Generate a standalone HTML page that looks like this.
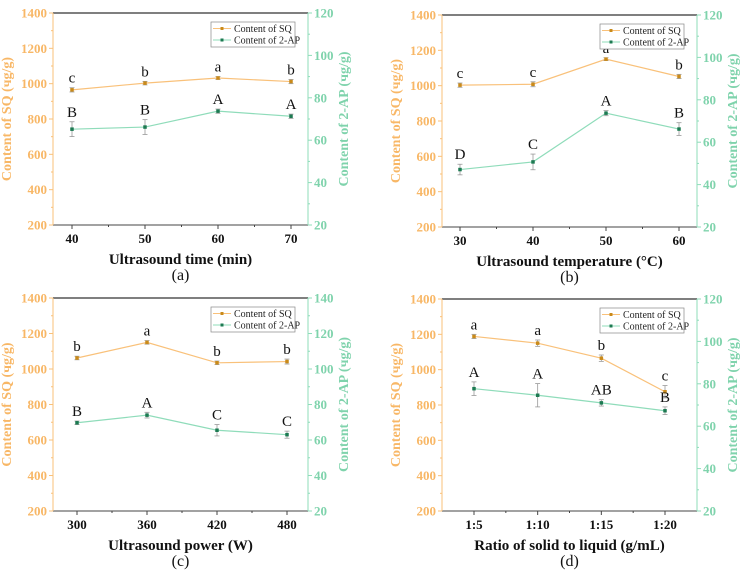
<!DOCTYPE html>
<html><head><meta charset="utf-8">
<style>
html,body{margin:0;padding:0;background:#fff;width:748px;height:574px;overflow:hidden}
svg{display:block;font-family:"Liberation Serif",serif}
</style></head>
<body>
<svg id="fig" width="748" height="574" viewBox="0 0 748 574"></svg>
<script>
// ---- data (panel a) ----
const catsA = ["40","50","60","70"];
const sqA = [965,1003,1032,1012];
const sqErrA = [12,10,8,12];
const apA = [65.2,66.2,73.7,71.3];
const apErrA = [3.5,3.5,1,1];
const sqLetA = ["c","b","a","b"];
const apLetA = ["B","B","A","A"];
// ---- data (panel b) ----
const catsB = ["30","40","50","60"];
const sqB = [1003,1008,1150,1052];
const sqErrB = [12,14,8,12];
const apB = [47.1,50.7,73.7,66.2];
const apErrB = [2.5,3.7,1.2,3];
const sqLetB = ["c","c","a","b"];
const apLetB = ["D","C","A","B"];
// ---- data (panel c) ----
const catsC = ["300","360","420","480"];
const sqC = [1062,1150,1035,1042];
const sqErrC = [10,10,10,14];
const apC = [69.7,74,65.5,63];
const apErrC = [1,1.6,3.2,2];
const sqLetC = ["b","a","b","b"];
const apLetC = ["B","A","C","C"];
// ---- data (panel d) ----
const catsD = ["1:5","1:10","1:15","1:20"];
const sqD = [1188,1150,1065,875];
const sqErrD = [12,18,18,35];
const apD = [77.7,74.6,71,67.3];
const apErrD = [3.2,5.5,1.5,1.8];
const sqLetD = ["a","a","b","c"];
const apLetD = ["A","A","AB","B"];
const leftTicks = [200,400,600,800,1000,1200,1400];
const rightTicksA = [20,40,60,80,100,120];
const rightTicksC = [20,40,60,80,100,120,140];

const NS="http://www.w3.org/2000/svg";
const svg=document.getElementById('fig');
function mk(tag,attrs,parent,text){const e=document.createElementNS(NS,tag);for(const k in attrs)e.setAttribute(k,attrs[k]);if(text!==undefined)e.textContent=text;(parent||svg).appendChild(e);return e;}

const ORL="#f9c17a", ORT="#f8b766", ORM="#c98a1a", TEL="#8fdcba", TET="#7fd3ac", TEM="#1d7a52";

function panel(cfg){
  const g=mk('g',{});
  
  
  const {L,R,T,B,x0,x1,rmax}=cfg;
  const n=cfg.cats.length;
  const xs=i=>x0+(x1-x0)*i/(n-1);
  const yl=v=>B-(v-200)/1200*(B-T);
  const yr=v=>B-(v-20)/(rmax-20)*(B-T);
  const top=mk('line',{x1:L,y1:T,x2:R,y2:T,stroke:"#333","stroke-width":1.3},g);
  
  const bot=mk('line',{x1:L,y1:B,x2:R,y2:B,stroke:"#444","stroke-width":1},g);
  
  const la=mk('line',{x1:L,y1:T,x2:L,y2:B,stroke:ORL,"stroke-width":1},g);
  
  const ra=mk('line',{x1:R,y1:T,x2:R,y2:B,stroke:TEL,"stroke-width":1},g);
  
  leftTicks.forEach((v,i)=>{
    const y=yl(v);
    mk('line',{x1:L-4,y1:y,x2:L,y2:y,stroke:ORL},g);
    if(i<leftTicks.length-1) mk('line',{x1:L-2,y1:yl(v+100),x2:L,y2:yl(v+100),stroke:ORL},g);
    const t=mk('text',{x:L-6,y:y+4.5,"text-anchor":"end","font-size":13,"font-weight":"bold",fill:ORT},g,String(v));
    
  });
  const rt=cfg.rticks;
  rt.forEach((v,i)=>{
    const y=yr(v);
    mk('line',{x1:R,y1:y,x2:R+4,y2:y,stroke:TEL},g);
    if(i<rt.length-1) mk('line',{x1:R,y1:yr(v+10),x2:R+2,y2:yr(v+10),stroke:TEL},g);
    const t=mk('text',{x:R+6,y:y+4.5,"font-size":13,"font-weight":"bold",fill:TET},g,String(v));
    
  });
  const step=(x1-x0)/(n-1);
  cfg.cats.forEach((c,i)=>{
    const x=xs(i);
    mk('line',{x1:x,y1:B,x2:x,y2:B+4,stroke:"#444"},g);
    if(i<n-1) mk('line',{x1:x+step/2,y1:B,x2:x+step/2,y2:B+2,stroke:"#444"},g);
    const t=mk('text',{x:x,y:B+18,"text-anchor":"middle","font-size":13,"font-weight":"bold",fill:"#111"},g,c);
    
  });
  const xt=mk('text',{x:(L+R)/2,y:B+39,"text-anchor":"middle","font-size":15,"font-weight":"bold",fill:"#111"},g,cfg.xtitle);
  
  const pl=mk('text',{x:(L+R)/2,y:B+55,"text-anchor":"middle","font-size":16,fill:"#111"},g,"("+cfg.id+")");
  
  const cy=(T+B)/2;
  const lt=mk('text',{x:L-42,y:cy,"text-anchor":"middle","font-size":14,"font-weight":"bold",fill:ORT,transform:`rotate(-90 ${L-42} ${cy})`},g,"Content of SQ (чg/g)");
  
  const rtt=mk('text',{x:R+40,y:cy,"text-anchor":"middle","font-size":14,"font-weight":"bold",fill:TET,transform:`rotate(-90 ${R+40} ${cy})`},g,"Content of 2-AP (чg/g)");
  
  function series(vals,errs,lets,ys,lc,mc,name,gap){
    const p=mk('polyline',{points:vals.map((v,i)=>xs(i)+","+ys(v)).join(" "),fill:"none",stroke:lc,"stroke-width":1.2},g);
    
    vals.forEach((v,i)=>{
      const x=xs(i),y=ys(v),e=errs[i];
      const ya=ys(v+e), yb=ys(v-e);
      mk('line',{x1:x,y1:ya,x2:x,y2:yb,stroke:"#999","stroke-width":0.8},g);
      mk('line',{x1:x-2.5,y1:ya,x2:x+2.5,y2:ya,stroke:"#999","stroke-width":0.8},g);
      mk('line',{x1:x-2.5,y1:yb,x2:x+2.5,y2:yb,stroke:"#999","stroke-width":0.8},g);
      const m=mk('rect',{x:x-1.75,y:y-1.75,width:3.5,height:3.5,fill:mc},g);
      
      const t=mk('text',{x:x,y:Math.min(y,ya)-gap,"text-anchor":"middle","font-size":15,fill:"#111"},g,lets[i]);
      
    });
  }
  series(cfg.sq,cfg.sqE,cfg.sqL,yl,ORL,ORM,'sq',5);
  series(cfg.ap,cfg.apE,cfg.apL,yr,TEL,TEM,'ap',5);
  const lx=R-97, ly=T+9;
  const lg=mk('g',{},g);
  
  mk('rect',{x:lx,y:ly,width:84,height:25,fill:"#fff",stroke:"#888","stroke-width":0.7},lg);
  mk('line',{x1:lx+2,y1:ly+6.5,x2:lx+20,y2:ly+6.5,stroke:ORL},lg);
  mk('rect',{x:lx+9.5,y:ly+5,width:3,height:3,fill:ORM},lg);
  const t1=mk('text',{x:lx+23,y:ly+10,"font-size":10,fill:"#222"},lg,"Content of SQ");
  
  mk('line',{x1:lx+2,y1:ly+18,x2:lx+20,y2:ly+18,stroke:TEL},lg);
  mk('rect',{x:lx+9.5,y:ly+16.5,width:3,height:3,fill:TEM},lg);
  const t2=mk('text',{x:lx+23,y:ly+21.5,"font-size":10,fill:"#222"},lg,"Content of 2-AP");
  
}
panel({id:"a",L:53,R:308,T:13,B:225,x0:72,x1:291,rmax:120,rticks:rightTicksA,cats:catsA,sq:sqA,sqE:sqErrA,sqL:sqLetA,ap:apA,apE:apErrA,apL:apLetA,xtitle:"Ultrasound time (min)"});
panel({id:"b",L:442,R:697,T:15,B:227,x0:460,x1:679,rmax:120,rticks:rightTicksA,cats:catsB,sq:sqB,sqE:sqErrB,sqL:sqLetB,ap:apB,apE:apErrB,apL:apLetB,xtitle:"Ultrasound temperature (°C)"});
panel({id:"c",L:53,R:308,T:298,B:511,x0:77,x1:287,rmax:140,rticks:rightTicksC,cats:catsC,sq:sqC,sqE:sqErrC,sqL:sqLetC,ap:apC,apE:apErrC,apL:apLetC,xtitle:"Ultrasound power (W)"});
panel({id:"d",L:442,R:697,T:299,B:511,x0:474,x1:665,rmax:120,rticks:rightTicksA,cats:catsD,sq:sqD,sqE:sqErrD,sqL:sqLetD,ap:apD,apE:apErrD,apL:apLetD,xtitle:"Ratio of solid to liquid (g/mL)"});
</script>
</body></html>
